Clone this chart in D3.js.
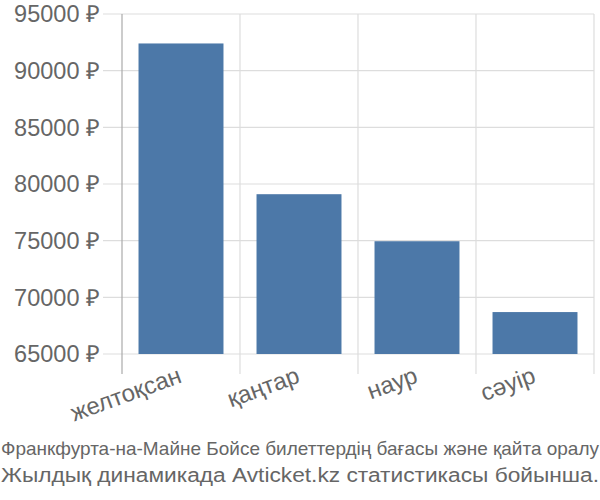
<!DOCTYPE html>
<html><head><meta charset="utf-8">
<script src="https://cdn.jsdelivr.net/npm/d3@7"></script>
<style>body{margin:0;background:#fff}svg{display:block}text{font-family:"Liberation Sans",Arial,sans-serif;fill:#666}</style>
</head><body><svg id="c" width="600" height="500"></svg>
<script>
const categories = ["желтоқсан","қаңтар","наур","сәуір"];
const values = [92400, 79100, 74950, 68700];
const yTicks = [65000,70000,75000,80000,85000,90000,95000];
const title1 = "Франкфурта-на-Майне Бойсе билеттердің бағасы және қайта оралу";
const title2 = "Жылдық динамикада Avticket.kz статистикасы бойынша.";

const svg = d3.select("#c");
const L=122, R=594, T=14, B=354;
const x = d3.scaleBand().domain(categories).range([L,R]).paddingInner(0.28).paddingOuter(0.14);
const y = d3.scaleLinear().domain([65000,95000]).range([B,T]);

// horizontal grid
svg.append("g").selectAll("line").data(yTicks).join("line")
  .attr("x1",103).attr("x2",R).attr("y1",d=>y(d)).attr("y2",d=>y(d))
  .attr("stroke","#ddd").attr("stroke-width",1.2);
// vertical grid
const step = x.step();
const vx = categories.map((c,i)=>L+step*(i+1));
svg.append("g").selectAll("line").data(vx).join("line")
  .attr("x1",d=>d).attr("x2",d=>d).attr("y1",T).attr("y2",374)
  .attr("stroke","#ddd").attr("stroke-width",1.2);
// left axis line
svg.append("line").attr("x1",L).attr("x2",L).attr("y1",T).attr("y2",374).attr("stroke","#aaa").attr("stroke-width",1.2);

// bars
svg.append("g").selectAll("rect").data(values).join("rect")
  .attr("x",(d,i)=>x(categories[i])).attr("width",x.bandwidth())
  .attr("y",d=>y(d)).attr("height",d=>B-y(d)).attr("fill","#4c78a8");

// y labels
svg.append("g").selectAll("text").data(yTicks).join("text")
  .attr("x",100).attr("y",d=>y(d)).attr("dy","0.35em").attr("text-anchor","end")
  .style("font-size","23.5px").text(d=>d+" ₽");

// x labels
svg.append("g").selectAll("text").data(categories).join("text")
  .attr("text-anchor","end")
  .attr("transform",d=>`translate(${x(d)+x.bandwidth()/2+2},${382}) rotate(-20)`)
  .style("font-size","24px").text(d=>d);

svg.append("text").attr("x",1).attr("y",455).style("font-size","19px")
  .attr("textLength",598).attr("lengthAdjust","spacingAndGlyphs").text(title1);
svg.append("text").attr("x",1).attr("y",482).style("font-size","20px")
  .attr("textLength",598).attr("lengthAdjust","spacingAndGlyphs").text(title2);
</script></body></html>
